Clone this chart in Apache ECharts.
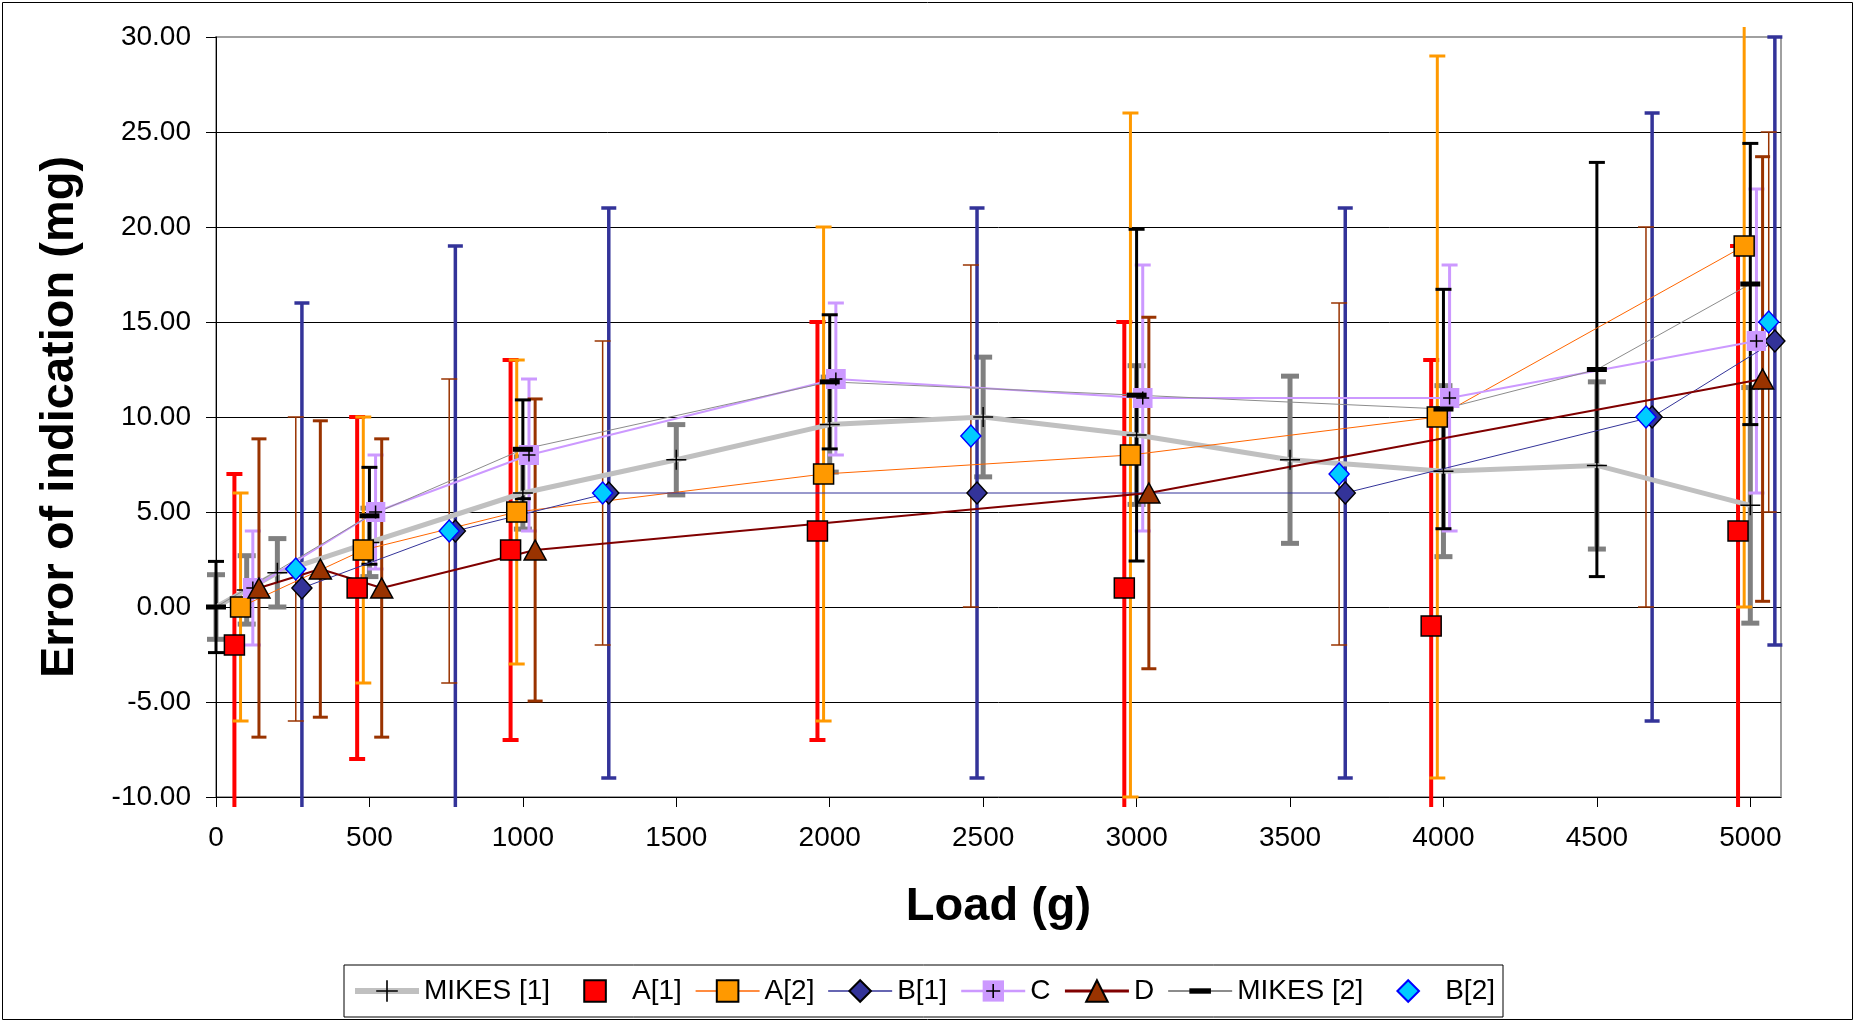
<!DOCTYPE html>
<html>
<head>
<meta charset="utf-8">
<script src="https://cdn.jsdelivr.net/npm/echarts@6/dist/echarts.min.js"></script>
<style>html,body{margin:0;padding:0;background:#fff}#c{width:1856px;height:1023px}</style>
</head>
<body>
<div id="c"></div>
<script>
// ---------- data ----------
const xTickValues = [0, 500, 1000, 1500, 2000, 2500, 3000, 3500, 4000, 4500, 5000];
const seriesNames = ['MIKES [1]', 'A[1]', 'A[2]', 'B[1]', 'C', 'D', 'MIKES [2]', 'B[2]'];

const mikes1Load = [0, 100, 200, 500, 1000, 1500, 2000, 2500, 3000, 3500, 4000, 4500, 5000];
const mikes1Val  = [0, 0.9, 1.8, 3.4, 6.0, 7.75, 9.6, 10.0, 9.05, 7.75, 7.15, 7.45, 5.35];
const mikes1Err  = [1.7, 1.8, 1.8, 1.8, 1.9, 1.85, 2.5, 3.15, 3.65, 4.4, 4.5, 4.4, 6.2];

const a1Load = [60, 460, 960, 1960, 2960, 3960, 4960];
const a1Val  = [-2, 1, 3, 4, 1, -1, 4];
const a1Err  = [9, 9, 10, 11, 14, 14, 15];

const a2Load = [80, 480, 980, 1980, 2980, 3980, 4980];
const a2Val  = [0, 3, 5, 7, 8, 10, 19];
const a2Err  = [6, 7, 8, 13, 18, 19, 19];

const b1Load = [280, 780, 1280, 2480, 3680, 4680, 5080];
const b1Val  = [1, 4, 6, 6, 6, 10, 14];
const b1Err  = [15, 15, 15, 15, 15, 16, 16];

const cLoad = [120, 520, 1020, 2020, 3020, 4020, 5020];
const cVal  = [1, 5, 8, 12, 11, 11, 14];
const cErr  = [3, 3, 4, 4, 7, 7, 8];

const dLoad = [140, 340, 540, 1040, 3040, 5040];
const dVal  = [1, 2, 1, 3, 6, 12];
const dErr  = [7.85, 7.8, 7.85, 7.95, 9.25, 11.7];

const mikes2Load = [0, 500, 1000, 2000, 3000, 4000, 4500, 5000];
const mikes2Val  = [0, 4.8, 8.3, 11.85, 11.15, 10.42, 12.5, 17.0];
const mikes2Err  = [2.4, 2.55, 2.6, 3.53, 8.73, 6.3, 10.9, 7.4];

const b2Load = [260, 760, 1260, 2460, 3660, 4660, 5060];
const b2Val  = [2, 4, 6, 9, 7, 10, 15];
const b2Err  = [8, 8, 8, 9, 9, 10, 10];

// ---------- styles ----------
const FONT = '"Liberation Sans", Arial, Helvetica, sans-serif';
const PLUS = 'path://M0,0L0,0M20,20L20,20M9.25,0h1.5v9.25h9.25v1.5h-9.25v9.25h-1.5v-9.25h-9.25v-1.5h9.25z';
const DASH = 'path://M0,0L0,0M20,20L20,20M0,7.5h20v5h-20z';
const cSvg = "<svg xmlns='http://www.w3.org/2000/svg' width='40' height='40'><rect width='40' height='40' fill='#CC99FF'/><path d='M20 7V33M7 20H33' stroke='#000' stroke-width='3'/></svg>";
const C_SYMBOL = 'image://data:image/svg+xml;charset=utf-8,' + encodeURIComponent(cSvg);

const defs = [
  {name: 'MIKES [1]', load: mikes1Load, val: mikes1Val, err: mikes1Err,
   line: {color: '#C0C0C0', width: 5, opacity: 1}, legendLine: 6, symbol: PLUS, size: 20,
   item: {color: '#000000', borderWidth: 0}, bar: {color: '#808080', width: 5, cap: 18}},
  {name: 'A[1]', load: a1Load, val: a1Val, err: a1Err,
   line: {color: '#FF0000', width: 0, opacity: 0}, legendLine: 0, symbol: 'rect', size: 20,
   item: {color: '#FF0000', borderColor: '#000000', borderWidth: 1.5}, bar: {color: '#FF0000', width: 4, cap: 16}},
  {name: 'A[2]', load: a2Load, val: a2Val, err: a2Err,
   line: {color: '#FF6600', width: 1, opacity: 1}, legendLine: 1.5, symbol: 'rect', size: 20,
   item: {color: '#FF9900', borderColor: '#000000', borderWidth: 1.5}, bar: {color: '#FF9900', width: 3, cap: 16}},
  {name: 'B[1]', load: b1Load, val: b1Val, err: b1Err,
   line: {color: '#333399', width: 1, opacity: 1}, legendLine: 1.5, symbol: 'diamond', size: [20, 22],
   item: {color: '#333399', borderColor: '#000000', borderWidth: 1.5}, bar: {color: '#333399', width: 3.5, cap: 15}},
  {name: 'C', load: cLoad, val: cVal, err: cErr,
   line: {color: '#CC99FF', width: 2, opacity: 1}, legendLine: 2.5, symbol: C_SYMBOL, size: 20,
   item: {color: '#CC99FF', borderWidth: 0}, bar: {color: '#CC99FF', width: 3, cap: 16}},
  {name: 'D', load: dLoad, val: dVal, err: dErr,
   line: {color: '#800000', width: 2, opacity: 1}, legendLine: 3, symbol: 'triangle', size: [22, 20],
   item: {color: '#993300', borderColor: '#000000', borderWidth: 1.5}, bar: {color: '#993300', width: 3, cap: 15}},
  {name: 'MIKES [2]', load: mikes2Load, val: mikes2Val, err: mikes2Err,
   line: {color: '#8C8C8C', width: 1, opacity: 1}, legendLine: 2, symbol: DASH, size: 20,
   item: {color: '#000000', borderWidth: 0}, bar: {color: '#000000', width: 3, cap: 16}},
  {name: 'B[2]', load: b2Load, val: b2Val, err: b2Err,
   line: {color: '#00CCFF', width: 0, opacity: 0}, legendLine: 0, symbol: 'diamond', size: [20, 22],
   item: {color: '#00CCFF', borderColor: '#0000FF', borderWidth: 1.5}, bar: {color: '#993300', width: 1.5, cap: 16}}
];

function errorRenderer(bar) {
  return function (params, api) {
    const x = api.value(0), lo = api.value(1), hi = api.value(2);
    const pHi = api.coord([x, hi]);
    const pLo = api.coord([x, lo]);
    const cs = params.coordSys;
    const top = cs.y - 10, bottom = cs.y + cs.height + 10;
    const y1 = Math.max(pHi[1], top), y2 = Math.min(pLo[1], bottom);
    const st = {stroke: bar.color, lineWidth: bar.width, lineCap: 'butt'};
    const h = bar.cap / 2;
    const children = [{type: 'line', shape: {x1: pHi[0], y1: y1, x2: pHi[0], y2: y2}, style: st}];
    if (pHi[1] >= top) children.push({type: 'line', shape: {x1: pHi[0] - h, y1: pHi[1], x2: pHi[0] + h, y2: pHi[1]}, style: st});
    if (pLo[1] <= bottom) children.push({type: 'line', shape: {x1: pLo[0] - h, y1: pLo[1], x2: pLo[0] + h, y2: pLo[1]}, style: st});
    return {type: 'group', children: children};
  };
}

const series = [];
defs.forEach(function (d) {
  series.push({
    type: 'custom', name: d.name + ' err', silent: true, clip: false,
    renderItem: errorRenderer(d.bar),
    encode: {x: 0, y: [1, 2]},
    data: d.load.map(function (x, i) { return [x, d.val[i] - d.err[i], d.val[i] + d.err[i]]; })
  });
  series.push({
    type: 'line', name: d.name, silent: true, clip: false,
    data: d.load.map(function (x, i) { return [x, d.val[i]]; }),
    symbol: d.symbol, symbolSize: d.size, showSymbol: true, showAllSymbol: true,
    lineStyle: {color: d.line.color, width: d.line.width, opacity: d.line.opacity},
    itemStyle: d.item,
    emphasis: {disabled: true}
  });
});

const legendData = defs.map(function (d) {
  return {name: d.name, lineStyle: {width: d.legendLine, color: d.line.color, opacity: d.legendLine > 0 ? 1 : 0}};
});

const chart = echarts.init(document.getElementById('c'), null, {renderer: 'canvas'});
chart.setOption({
  animation: false,
  backgroundColor: '#ffffff',
  textStyle: {fontFamily: FONT},
  grid: {left: 216, right: 75, top: 37, bottom: 226, show: true, borderColor: '#a0a0a0', borderWidth: 2,
         backgroundColor: 'transparent', outerBoundsMode: 'none', containLabel: false},
  xAxis: {
    type: 'value', min: 0, max: 5100, interval: 500,
    name: 'Load (g)', nameLocation: 'middle', nameGap: 87,
    nameTextStyle: {fontSize: 47, fontWeight: 'bold', color: '#000', fontFamily: FONT},
    axisLine: {show: true, onZero: false, lineStyle: {color: '#000', width: 1}},
    axisTick: {show: true, inside: false, length: 10, lineStyle: {color: '#000', width: 1}, customValues: xTickValues},
    axisLabel: {show: true, margin: 27, fontSize: 28, color: '#000', fontFamily: FONT, customValues: xTickValues,
                formatter: function (v) { return String(v); }},
    splitLine: {show: false}
  },
  yAxis: {
    type: 'value', min: -10, max: 30, interval: 5,
    name: 'Error of indication (mg)', nameLocation: 'middle', nameGap: 132,
    nameTextStyle: {fontSize: 47, fontWeight: 'bold', color: '#000', fontFamily: FONT},
    axisLine: {show: true, onZero: false, lineStyle: {color: '#000', width: 1}},
    axisTick: {show: true, inside: false, length: 10, lineStyle: {color: '#000', width: 1}},
    axisLabel: {show: true, margin: 25, fontSize: 28, color: '#000', fontFamily: FONT,
                formatter: function (v) { return v.toFixed(2); }},
    splitLine: {show: true, showMinLine: false, showMaxLine: false, lineStyle: {color: '#000', width: 1}}
  },
  legend: {
    data: legendData, left: 344, top: 965, orient: 'horizontal',
    itemWidth: 64, itemHeight: 27, itemGap: 13,
    padding: [12, 8, 12, 8], borderColor: '#000', borderWidth: 1, backgroundColor: '#fff',
    selectedMode: false,
    textStyle: {fontSize: 28, color: '#000', fontFamily: FONT}
  },
  graphic: [{type: 'rect', silent: true, z: -10,
             shape: {x: 2.5, y: 2.5, width: 1850, height: 1017},
             style: {fill: null, stroke: '#000', lineWidth: 1}}],
  series: series
});
</script>
</body>
</html>
